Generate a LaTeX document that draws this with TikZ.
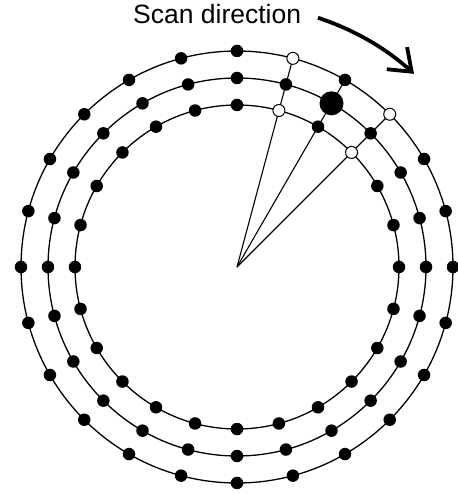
\documentclass[tikz,border=0pt]{standalone}
\usepackage{fontspec}
\setmainfont{Liberation Sans}
\usetikzlibrary{arrows.meta, backgrounds}
\tikzset{
  ring/.style={draw, line width=1.3pt},
  spoke/.style={draw, line width=1.1pt},
  dot/.style={
    circle, fill=black, inner sep=0pt, minimum size=12.5pt
  },
  opendot/.style={
    circle, draw=black, fill=white, line width=1pt,
    inner sep=0pt, minimum size=12pt
  },
  bigdot/.style={
    circle, fill=black, inner sep=0pt, minimum size=24pt
  },
  scanarr/.style={
    -{Straight Barb[length=20pt, width=30pt]},
    line width=3.8pt
  },
  lbl/.style={
    font=\fontsize{26.5}{32}\selectfont, inner sep=0pt
  }
}

\begin{document}
\begin{tikzpicture}[x=1pt, y=1pt]
    \useasboundingbox (-237,-227) rectangle (220,267);

    % ============================================================
    % RINGS
    % ============================================================
    \coordinate (ctr) at (0,0);
    \foreach \rad in {162,189,216}
      \draw[ring] (ctr) circle[radius=\rad];

    % ============================================================
    % SAMPLE POINTS (15 deg apart)
    % ============================================================
    \foreach \ang in {0,15,30,90,105,...,345} {
      \node[dot] (in-\ang)  at (\ang:162) {};
      \node[dot] (out-\ang) at (\ang:216) {};
    }
    \foreach \ang in {0,15,...,45,75,90,...,345}
      \node[dot] (mid-\ang) at (\ang:189) {};

    \node[dot]    (in-60)  at (60:162) {};
    \node[bigdot] (mid-60) at (60:189) {};
    \node[dot]    (out-60) at (60:216) {};

    \foreach \ang in {45,75} {
      \node[opendot] (in-\ang)  at (\ang:162) {};
      \node[opendot] (out-\ang) at (\ang:216) {};
    }

    % ============================================================
    % SPOKES
    % ============================================================
    \begin{scope}[on background layer]
      \foreach \ang in {45,60,75}
        \draw[spoke] (ctr) -- (out-\ang.center);
    \end{scope}

    % ============================================================
    % SCAN LABEL + ARROW
    % ============================================================
    \node (scanlbl) [lbl, anchor=base west] at (-104,243) {Scan direction};
    \coordinate (scanfrom) at (72:262);
    \draw[scanarr] (scanfrom) arc[start angle=72, end angle=47.5, radius=262];

\end{tikzpicture}
\end{document}
